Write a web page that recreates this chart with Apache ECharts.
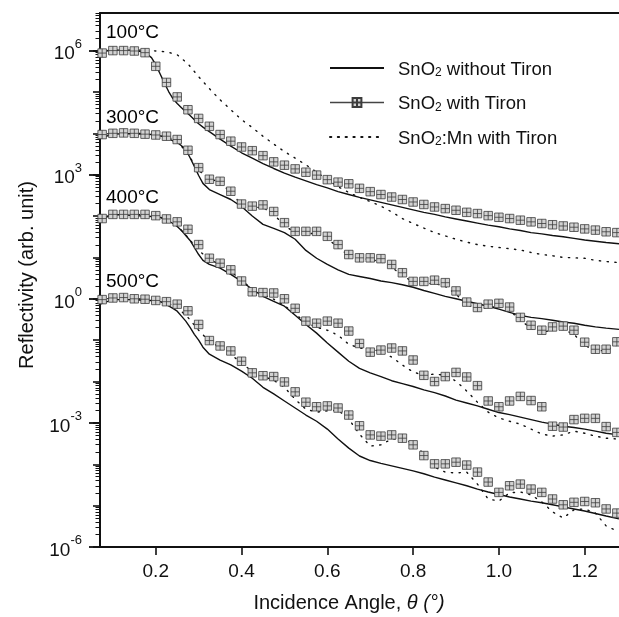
<!DOCTYPE html>
<html><head><meta charset="utf-8">
<script src="https://cdn.jsdelivr.net/npm/echarts@6/dist/echarts.min.js"></script>
<style>html,body{margin:0;padding:0;background:#fff}#c{width:619px;height:617px}</style>
</head><body><div id="c"></div>
<script>
// ---- data (angles in degrees; reflectivity stored as log10 values) ----
const lineAngles = [0.07,0.1,0.125,0.15,0.175,0.19,0.2,0.21,0.22,0.23,0.24,0.25,0.26,0.27,0.28,0.29,0.3,0.31,0.325,0.35,0.375,0.4,0.425,0.45,0.475,0.5,0.525,0.55,0.575,0.6,0.625,0.65,0.675,0.7,0.725,0.75,0.775,0.8,0.825,0.85,0.875,0.9,0.925,0.95,0.975,1.0,1.025,1.05,1.075,1.1,1.125,1.15,1.175,1.2,1.225,1.25,1.28];
const markerAngles = [0.075,0.1,0.125,0.15,0.175,0.2,0.225,0.25,0.275,0.3,0.325,0.35,0.375,0.4,0.425,0.45,0.475,0.5,0.525,0.55,0.575,0.6,0.625,0.65,0.675,0.7,0.725,0.75,0.775,0.8,0.825,0.85,0.875,0.9,0.925,0.95,0.975,1.0,1.025,1.05,1.075,1.1,1.125,1.15,1.175,1.2,1.225,1.25,1.275];
const dotAngles = [0.07,0.1,0.125,0.15,0.175,0.2,0.225,0.25,0.275,0.3,0.325,0.35,0.375,0.4,0.425,0.45,0.475,0.5,0.525,0.55,0.575,0.6,0.625,0.65,0.675,0.7,0.725,0.75,0.775,0.8,0.825,0.85,0.875,0.9,0.925,0.95,0.975,1.0,1.025,1.05,1.075,1.1,1.125,1.15,1.175,1.2,1.225,1.25,1.275];
const temperatures = ['100°C','300°C','400°C','500°C'];

// SnO2 without Tiron (solid)
const withoutTiron100 = [5.97,6.01,6.01,6.01,5.95,5.83,5.66,5.44,5.22,5.01,4.84,4.72,4.62,4.52,4.43,4.33,4.23,4.15,4.04,3.86,3.69,3.53,3.40,3.27,3.15,3.04,2.94,2.85,2.76,2.68,2.59,2.52,2.45,2.39,2.33,2.27,2.21,2.15,2.09,2.04,1.98,1.93,1.88,1.83,1.78,1.74,1.69,1.65,1.60,1.57,1.53,1.50,1.46,1.42,1.39,1.36,1.33];
const withoutTiron300 = [3.88,3.98,3.99,3.99,3.98,3.97,3.96,3.94,3.91,3.87,3.82,3.78,3.70,3.61,3.41,3.20,2.98,2.79,2.64,2.52,2.40,2.23,2.00,1.80,1.70,1.60,1.44,1.17,0.98,0.83,0.70,0.59,0.54,0.49,0.43,0.39,0.34,0.28,0.20,0.13,0.06,0.00,-0.06,-0.12,-0.18,-0.25,-0.33,-0.40,-0.45,-0.48,-0.52,-0.56,-0.59,-0.64,-0.68,-0.71,-0.74];
const withoutTiron400 = [1.92,2.03,2.03,2.01,2.00,1.99,1.98,1.97,1.93,1.88,1.82,1.75,1.65,1.53,1.41,1.24,1.07,0.93,0.83,0.74,0.59,0.42,0.23,0.06,-0.06,-0.18,-0.40,-0.62,-0.83,-1.07,-1.29,-1.51,-1.68,-1.79,-1.88,-1.98,-2.05,-2.12,-2.20,-2.27,-2.35,-2.45,-2.52,-2.59,-2.67,-2.75,-2.80,-2.86,-2.92,-2.98,-3.03,-3.08,-3.11,-3.15,-3.20,-3.25,-3.29];
const withoutTiron500 = [-0.13,-0.02,-0.02,-0.02,-0.04,-0.04,-0.05,-0.07,-0.11,-0.17,-0.23,-0.30,-0.42,-0.54,-0.69,-0.86,-1.00,-1.17,-1.34,-1.48,-1.60,-1.75,-1.92,-2.14,-2.30,-2.47,-2.64,-2.81,-2.96,-3.15,-3.39,-3.61,-3.80,-3.91,-3.98,-4.04,-4.10,-4.16,-4.23,-4.31,-4.38,-4.45,-4.52,-4.60,-4.67,-4.73,-4.79,-4.84,-4.89,-4.93,-4.98,-5.03,-5.08,-5.13,-5.19,-5.25,-5.32];

// SnO2 with Tiron (markers)
const withTiron100 = [5.94,6.00,6.00,5.99,5.95,5.62,5.23,4.88,4.57,4.36,4.17,3.97,3.81,3.67,3.58,3.46,3.31,3.23,3.14,3.06,2.99,2.88,2.82,2.78,2.67,2.59,2.52,2.46,2.40,2.34,2.28,2.22,2.18,2.14,2.09,2.06,2.01,1.97,1.94,1.90,1.86,1.82,1.79,1.76,1.73,1.69,1.66,1.62,1.60];
const withTiron300 = [3.97,4.00,4.01,4.00,3.98,3.96,3.93,3.85,3.59,3.17,2.89,2.84,2.60,2.29,2.24,2.27,2.11,1.84,1.63,1.63,1.63,1.51,1.31,1.07,0.99,0.99,0.97,0.83,0.63,0.42,0.42,0.45,0.39,0.19,-0.08,-0.21,-0.13,-0.11,-0.20,-0.45,-0.64,-0.76,-0.68,-0.66,-0.76,-1.05,-1.22,-1.22,-1.04];
const withTiron400 = [1.94,2.04,2.04,2.04,2.04,2.01,1.93,1.86,1.68,1.31,0.98,0.86,0.70,0.43,0.17,0.15,0.14,0.00,-0.23,-0.54,-0.59,-0.54,-0.59,-0.78,-1.08,-1.29,-1.24,-1.19,-1.26,-1.48,-1.85,-2.00,-1.88,-1.78,-1.89,-2.10,-2.47,-2.61,-2.47,-2.36,-2.46,-2.61,-3.08,-3.10,-2.92,-2.89,-2.89,-3.09,-3.23];
const withTiron500 = [-0.02,0.02,0.03,0.00,-0.01,-0.04,-0.07,-0.13,-0.29,-0.62,-1.01,-1.14,-1.26,-1.51,-1.79,-1.86,-1.88,-2.01,-2.25,-2.50,-2.61,-2.59,-2.64,-2.81,-3.07,-3.29,-3.32,-3.29,-3.37,-3.53,-3.79,-3.99,-3.99,-3.95,-4.02,-4.19,-4.43,-4.68,-4.52,-4.48,-4.60,-4.68,-4.84,-4.98,-4.92,-4.90,-4.93,-5.08,-5.18];

// SnO2:Mn with Tiron (dotted)
const mnWithTiron100 = [5.99,6.01,6.01,6.01,6.01,5.99,5.97,5.90,5.68,5.37,5.08,4.81,4.57,4.33,4.14,3.93,3.74,3.56,3.40,3.24,3.06,2.88,2.71,2.57,2.45,2.35,2.24,2.10,1.94,1.82,1.71,1.60,1.52,1.44,1.37,1.31,1.27,1.24,1.21,1.18,1.12,1.07,1.04,1.00,0.99,0.98,0.93,0.90,0.88];
const mnWithTiron300 = [3.97,4.00,4.00,4.00,3.99,3.97,3.92,3.82,3.49,3.10,2.91,2.81,2.57,2.28,2.21,2.21,2.04,1.77,1.60,1.58,1.58,1.46,1.24,1.05,0.98,0.95,0.90,0.76,0.57,0.40,0.37,0.37,0.30,0.11,-0.13,-0.25,-0.21,-0.18,-0.28,-0.52,-0.71,-0.81,-0.76,-0.74,-0.86,-1.12,-1.27,-1.24,-1.12];
const mnWithTiron400 = [1.94,2.04,2.04,2.04,2.03,2.01,1.92,1.77,1.48,1.17,0.95,0.83,0.66,0.45,0.23,0.11,-0.01,-0.16,-0.37,-0.57,-0.69,-0.76,-0.88,-1.10,-1.19,-1.22,-1.27,-1.41,-1.60,-1.77,-1.85,-1.82,-1.85,-1.99,-2.23,-2.50,-2.74,-2.88,-2.96,-3.03,-3.15,-3.27,-3.32,-3.29,-3.20,-3.25,-3.32,-3.37,-3.39];
const mnWithTiron500 = [-0.02,0.02,0.02,0.00,-0.01,-0.04,-0.09,-0.21,-0.45,-0.76,-1.03,-1.17,-1.34,-1.56,-1.75,-1.87,-1.97,-2.14,-2.43,-2.67,-2.74,-2.71,-2.69,-2.91,-3.27,-3.56,-3.53,-3.39,-3.39,-3.49,-3.75,-4.07,-4.19,-4.21,-4.19,-4.48,-4.84,-4.89,-4.69,-4.67,-4.74,-4.91,-5.15,-5.30,-5.10,-5.08,-5.18,-5.49,-5.61];

// tick values
const xTickValues = [0.2,0.4,0.6,0.8,1.0,1.2];
const yLabelValues = [1e-6,1e-3,1,1e3,1e6];
const yDecadeTicks = [1e-6,1e-5,1e-4,1e-3,1e-2,1e-1,1,1e1,1e2,1e3,1e4,1e5,1e6];

// ---- chart ----
const FONT = '"Liberation Sans", Arial, Helvetica, sans-serif';
const INK = '#111';
const Y_MIN = 1e-6, Y_MAX = 8.1e6;
const yMinorTicks = [];
yDecadeTicks.concat([1e7]).forEach(d => { for (let k = 2; k <= 9; k++) { const v = d * k; if (v < Y_MAX) yMinorTicks.push(v); } });

const toPairs = (xs, logs) => xs.map((x, i) => [x, Math.pow(10, logs[i])]);
const names = ['SnO2 without Tiron', 'SnO2 with Tiron', 'SnO2:Mn with Tiron'];
const solidSets = [withoutTiron100, withoutTiron300, withoutTiron400, withoutTiron500];
const markerSets = [withTiron100, withTiron300, withTiron400, withTiron500];
const dotSets = [mnWithTiron100, mnWithTiron300, mnWithTiron400, mnWithTiron500];
const MARK = 'path://M0,0L10,0L10,10L0,10Z M5,0L5,10 M0,5L10,5';

const series = [];
for (let k = 0; k < 4; k++) {
  series.push({ name: names[0], type: 'line', data: toPairs(lineAngles, solidSets[k]), symbol: 'none',
    itemStyle: { color: INK }, lineStyle: { color: INK, width: 1.4 }, z: 2 });
  series.push({ name: names[2], type: 'line', data: toPairs(dotAngles, dotSets[k]), symbol: 'none',
    itemStyle: { color: INK }, lineStyle: { color: INK, width: 1.4, type: [1.3, 6.5], cap: 'round' }, z: 3 });
  series.push({ name: names[1], type: 'line', data: toPairs(markerAngles, markerSets[k]), symbol: MARK,
    symbolSize: 8.5, showAllSymbol: true, lineStyle: { opacity: 0, color: '#333' },
    itemStyle: { color: '#d2d2d2', borderColor: '#3c3c3c', borderWidth: 0.8 }, z: 4 });
}
// temperature annotations anchored in data space
const tempLabelAngle = 0.084;
const tempLabelLog = [6.42, 4.38, 2.45, 0.40];
series.push({ type: 'scatter', symbolSize: 0, z: 5, silent: true, itemStyle: { color: '#000', opacity: 1 },
  data: temperatures.map((t, i) => ({ name: t, value: [tempLabelAngle, Math.pow(10, tempLabelLog[i])] })),
  label: { show: true, position: [0, 0], align: 'left', verticalAlign: 'middle', formatter: '{b}',
    fontFamily: FONT, fontSize: 19, color: '#000', opacity: 1 } });

const hiddenSymbol = { color: 'rgba(0,0,0,0)', borderWidth: 0, opacity: 0 };
const chart = echarts.init(document.getElementById('c'), null, { renderer: 'canvas' });
chart.setOption({
  animation: false,
  backgroundColor: '#fff',
  grid: { left: 100, right: 0, top: 13, bottom: 70, containLabel: false, outerBoundsMode: 'none' },
  legend: {
    left: 324, top: 55, orient: 'vertical', itemWidth: 54, itemHeight: 11, itemGap: 15.5, selectedMode: false,
    data: [
      { name: names[0], itemStyle: hiddenSymbol },
      { name: names[1], lineStyle: { opacity: 1, width: 1.3, color: '#444' } },
      { name: names[2], itemStyle: hiddenSymbol }
    ],
    formatter: n => '{n|SnO}{sub|2}{n|' + n.slice(4) + '}',
    textStyle: { fontFamily: FONT, fontSize: 18.5, color: INK, padding: [0, 0, 0, 9],
      rich: { n: { fontFamily: FONT, fontSize: 18.5, color: INK, lineHeight: 22, verticalAlign: 'bottom' },
              sub: { fontFamily: FONT, fontSize: 12, color: INK, lineHeight: 7, verticalAlign: 'bottom' } } }
  },
  xAxis: [{
    type: 'value', min: 0.07, max: 1.28, position: 'bottom',
    axisLine: { show: true, onZero: false, lineStyle: { color: INK, width: 2 } },
    axisTick: { show: true, length: 8, customValues: xTickValues, lineStyle: { color: INK, width: 1.6 } },
    axisLabel: { customValues: xTickValues, formatter: v => v.toFixed(1), fontFamily: FONT, fontSize: 19, color: INK, margin: 15 },
    splitLine: { show: false },
    name: '{a|Incidence Angle, }{i|θ (°)}', nameLocation: 'middle', nameGap: 46,
    nameTextStyle: { padding: [0, 21, 0, 0], rich: { a: { fontFamily: FONT, fontSize: 20, color: INK }, i: { fontFamily: FONT, fontSize: 20, color: INK, fontStyle: 'italic' } } }
  }, {
    type: 'value', min: 0.07, max: 1.28, position: 'top',
    axisLine: { show: true, onZero: false, lineStyle: { color: INK, width: 2 } },
    axisTick: { show: false }, axisLabel: { show: false }, splitLine: { show: false }
  }],
  yAxis: [{
    type: 'log', logBase: 10, min: Y_MIN, max: Y_MAX, position: 'left',
    axisLine: { show: true, lineStyle: { color: INK, width: 2 } },
    axisTick: { show: true, length: 7, customValues: yDecadeTicks, lineStyle: { color: INK, width: 1.6 } },
    axisLabel: { show: false }, splitLine: { show: false },
    name: 'Reflectivity (arb. unit)', nameLocation: 'middle', nameGap: 63,
    nameTextStyle: { fontFamily: FONT, fontSize: 20, color: INK, padding: [0, 0, 0, 10] }
  }, {
    type: 'log', logBase: 10, min: Y_MIN, max: Y_MAX, position: 'left', offset: 0,
    axisLine: { show: false },
    axisTick: { show: true, length: 4.5, customValues: yMinorTicks, lineStyle: { color: INK, width: 1 } },
    axisLabel: { show: false }, splitLine: { show: false }
  }, {
    type: 'log', logBase: 10, min: Y_MIN, max: Y_MAX, position: 'left', offset: 0,
    axisLine: { show: false },
    axisTick: { show: true, length: 11, customValues: yLabelValues, lineStyle: { color: INK, width: 1.8 } },
    axisLabel: { customValues: yLabelValues, margin: 18,
      formatter: v => '{b|10}{s|' + Math.round(Math.log10(v)) + '}',
      rich: { b: { fontFamily: FONT, fontSize: 19, color: INK, lineHeight: 18, verticalAlign: 'bottom' },
              s: { fontFamily: FONT, fontSize: 13, color: INK, lineHeight: 26, verticalAlign: 'top' } } },
    splitLine: { show: false }
  }],
  series: series
});
</script></body></html>
